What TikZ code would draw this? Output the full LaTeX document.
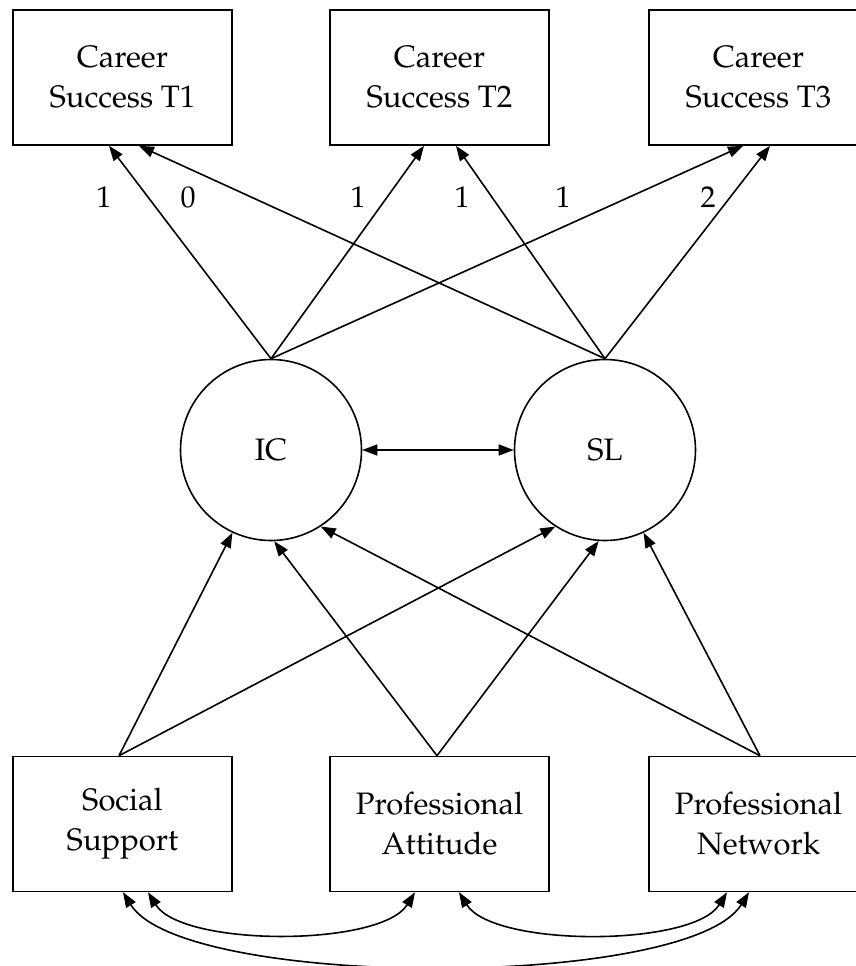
\documentclass[tikz,border=0pt]{standalone}
\usepackage[T1]{fontenc}
\usepackage{mathpazo}
\usetikzlibrary{arrows.meta}

\begin{document}
\begin{tikzpicture}[x=0.5pt, y=-0.5pt, thick, >={Triangle[length=7.5pt,width=5.5pt]},
		obs/.style={draw, rectangle, minimum width=109.5pt, minimum height=67.5pt, align=center, font=\fontsize{15.5}{20}\selectfont},
		lat/.style={draw, circle, minimum size=90.5pt, font=\fontsize{15.5}{20}\selectfont},
		wt/.style={font=\fontsize{15}{18}\selectfont}]
		\useasboundingbox (0,0) rectangle (856,966);
		\clip (0,0) rectangle (856,966);

		% outcomes
		\node[obs] (t1) at (122.5,77.5) {Career\\Success T1};
		\node[obs] (t2) at (439.5,77.5) {Career\\Success T2};
		\node[obs] (t3) at (758.5,77.5) {Career\\Success T3};

		% growth factors
		\node[lat] (ic) at (271,450) {IC};
		\node[lat] (sl) at (605,450) {SL};

		% predictors
		\node[obs] (ss) at (122.5,824) {Social\\Support};
		\node[obs] (pa) at (439.5,824) {Professional\\Attitude};
		\node[obs] (pn) at (758.5,824) {Professional\\Network};

		% loadings
		\draw[->] (ic.north) -- ([xshift=-6.75pt]t1.south);
		\draw[->] (sl.north) -- ([xshift=8.25pt]t1.south);
		\draw[->] (ic.north) -- ([xshift=-7.75pt]t2.south);
		\draw[->] (sl.north) -- ([xshift=8.25pt]t2.south);
		\draw[->] (ic.north) -- ([xshift=-7.75pt]t3.south);
		\draw[->] (sl.north) -- ([xshift=5.75pt]t3.south);

		\node[wt] (w1) at (104,197) {1};
		\node[wt] (w2) at (188,197) {0};
		\node[wt] (w3) at (358,197) {1};
		\node[wt] (w4) at (462,197) {1};
		\node[wt] (w5) at (563,197) {1};
		\node[wt] (w6) at (708,197) {2};

		\draw[<->] (ic.east) -- (sl.west);

		% regressions on the factors
		\draw[->] ([xshift=-1.75pt]ss.north) -- (ic.245);
		\draw[->] ([xshift=-1.75pt]ss.north) -- (sl.237);
		\draw[->] ([xshift=-1.25pt]pa.north) -- (ic.272);
		\draw[->] ([xshift=-1.25pt]pa.north) -- (sl.266);
		\draw[->] ([xshift=0.75pt]pn.north) -- (ic.303);
		\draw[->] ([xshift=0.75pt]pn.north) -- (sl.295);

		% covariances
		\draw[<->] ([xshift=12.75pt]ss.south) to[out=-58, in=-122, looseness=0.62] ([xshift=-12.25pt]pa.south);
		\draw[<->] ([xshift=9.75pt]pa.south) to[out=-58, in=-122, looseness=0.62] ([xshift=-15.75pt]pn.south);
		\draw[<->] ([xshift=0.25pt]ss.south) to[out=-58, in=-122, looseness=0.47] ([xshift=-4.75pt]pn.south);
	\end{tikzpicture}
\end{document}
